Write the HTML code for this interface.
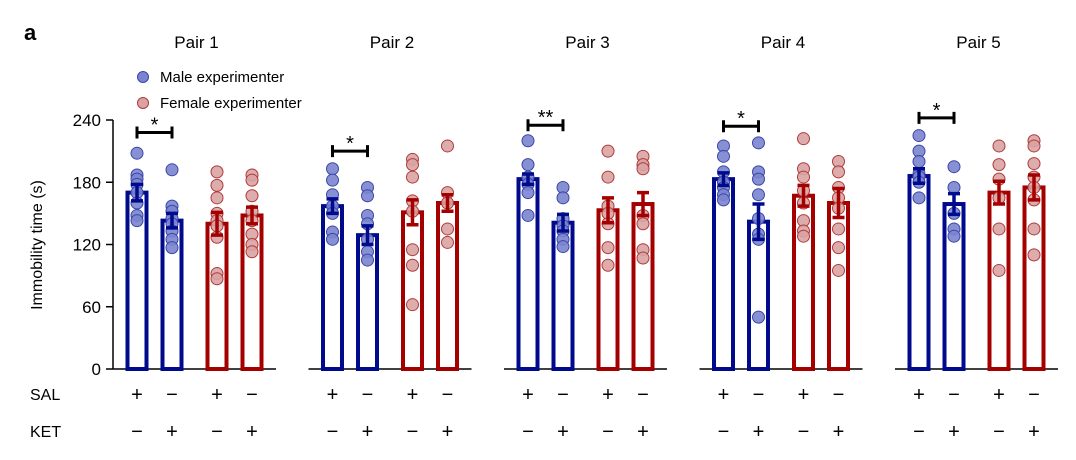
<!DOCTYPE html>
<html><head><meta charset="utf-8"><style>
body{margin:0;background:#fff}
svg{display:block;font-family:"Liberation Sans",Arial,sans-serif}
</style></head><body>
<svg id="chart" width="1076" height="460" viewBox="0 0 1076 460">
<text x="24" y="40" font-size="22" font-weight="bold">a</text>
<g>
<circle cx="143" cy="77" r="5.5" fill="#7b84cf" stroke="#3a46a8"/>
<text x="160" y="82" font-size="15">Male experimenter</text>
<circle cx="143" cy="103" r="5.5" fill="#d9a3a3" stroke="#b03a3a"/>
<text x="160" y="108" font-size="15">Female experimenter</text>
</g>
<text transform="translate(42,245) rotate(-90)" text-anchor="middle" font-size="16">Immobility time (s)</text>
<text x="30" y="400" font-size="16">SAL</text>
<text x="30" y="437" font-size="16">KET</text>
</svg>
<script>
const pairs=["Pair 1","Pair 2","Pair 3","Pair 4","Pair 5"];
const yTicks=[0,60,120,180,240];
const barMeans=[[170,143,140,148],[157,129,151,160],[183,141,153,159],[183,142,167,160],[186,159,170,175]];
const barErrs=[[8,7,11,8],[7,9,12,8],[5,8,12,11],[6,17,10,14],[7,10,11,12]];
const dots=[
[[208,187,183,178,170,160,148,143],[192,157,152,145,140,133,125,117],[190,177,165,150,143,138,127,92,87],[187,182,167,152,143,130,120,113]],
[[193,182,168,157,150,132,125],[175,167,148,140,125,113,105],[202,197,185,162,152,115,100,62],[215,170,160,135,122]],
[[220,197,185,178,170,148],[175,165,145,138,133,125,118],[210,185,157,150,140,117,100],[205,197,193,148,140,115,107]],
[[215,205,190,180,175,168,163],[218,190,183,168,145,130,125,50],[222,193,185,172,160,143,133,128],[200,190,175,165,155,135,117,95]],
[[225,210,200,188,185,180,165],[195,175,150,135,128],[215,197,183,165,135,95],[220,215,198,185,175,163,135,110]]];
const sigLabels=["*","*","**","*","*"];
const sigLevels=[228,210,235,234,242];
const salSigns=["+","−","+","−"];
const ketSigns=["−","+","−","+"];

const svg=document.getElementById('chart');
const NS="http://www.w3.org/2000/svg";
const y0=369,yScale=249/240;
function y(v){return y0-v*yScale;}
function px(p,i){return 137+p*195.5+[0,35,80,115][i];}
function mk(tag,attrs,parent){const e=document.createElementNS(NS,tag);for(const k in attrs)e.setAttribute(k,attrs[k]);(parent||svg).appendChild(e);return e;}
const blue="#000a8c",red="#a50000";
const ax=mk('g',{});


mk('line',{x1:113,x2:113,y1:y(240),y2:y0,stroke:'#000','stroke-width':1.5},ax);
yTicks.forEach(t=>{
 mk('line',{x1:106,x2:113,y1:y(t),y2:y(t),stroke:'#000','stroke-width':1.5},ax);
 const tx=mk('text',{x:101,y:y(t)+6,'text-anchor':'end','font-size':17},ax);
 tx.textContent=t;
 
 
});
pairs.forEach((name,p)=>{
 const g=mk('g',{});
 
 
 const t=mk('text',{x:(px(p,0)+px(p,3))/2+2,y:48,'text-anchor':'middle','font-size':17},g);
 t.textContent=name;
 
 
 const bl=mk('line',{x1:px(p,0)-24,x2:px(p,0)+139,y1:y0,y2:y0,stroke:'#000','stroke-width':1.5},g);
 
 
 for(let i=0;i<4;i++){
  const c=i<2?blue:red,cx=px(p,i),m=barMeans[p][i],e=barErrs[p][i];
  const b=mk('rect',{x:cx-9.5,y:y(m),width:19,height:y0-y(m),fill:'none',stroke:c,'stroke-width':4},g);
  
  
  dots[p][i].forEach(v=>{
   const d=mk('circle',{cx:cx,cy:y(v),r:6,fill:i<2?'#7b84cf':'#d9a3a3',stroke:i<2?'#3a46a8':'#b03a3a','stroke-width':1,'fill-opacity':0.9},g);
   
   
  });
  const eb=mk('path',{d:`M${cx} ${y(m+e)}V${y(m-e)}M${cx-6} ${y(m+e)}H${cx+6}M${cx-6} ${y(m-e)}H${cx+6}`,stroke:c,'stroke-width':3.5,fill:'none'},g);
  
  
  const s=mk('text',{x:cx,y:401,'text-anchor':'middle','font-size':20},g);
  s.textContent=salSigns[i];
  
  
  const k=mk('text',{x:cx,y:438,'text-anchor':'middle','font-size':20},g);
  k.textContent=ketSigns[i];
  
  
 }
 const sy=y(sigLevels[p]),a=px(p,0),b2=px(p,1);
 const br=mk('path',{d:`M${a} ${sy-6}V${sy+6}M${a} ${sy}H${b2}M${b2} ${sy-6}V${sy+6}`,stroke:'#000','stroke-width':3,fill:'none'},g);
 
 
 const st=mk('text',{x:(a+b2)/2,y:sy-1,'text-anchor':'middle','font-size':20},g);
 st.textContent=sigLabels[p];
 
 
});
</script>
</body></html>
